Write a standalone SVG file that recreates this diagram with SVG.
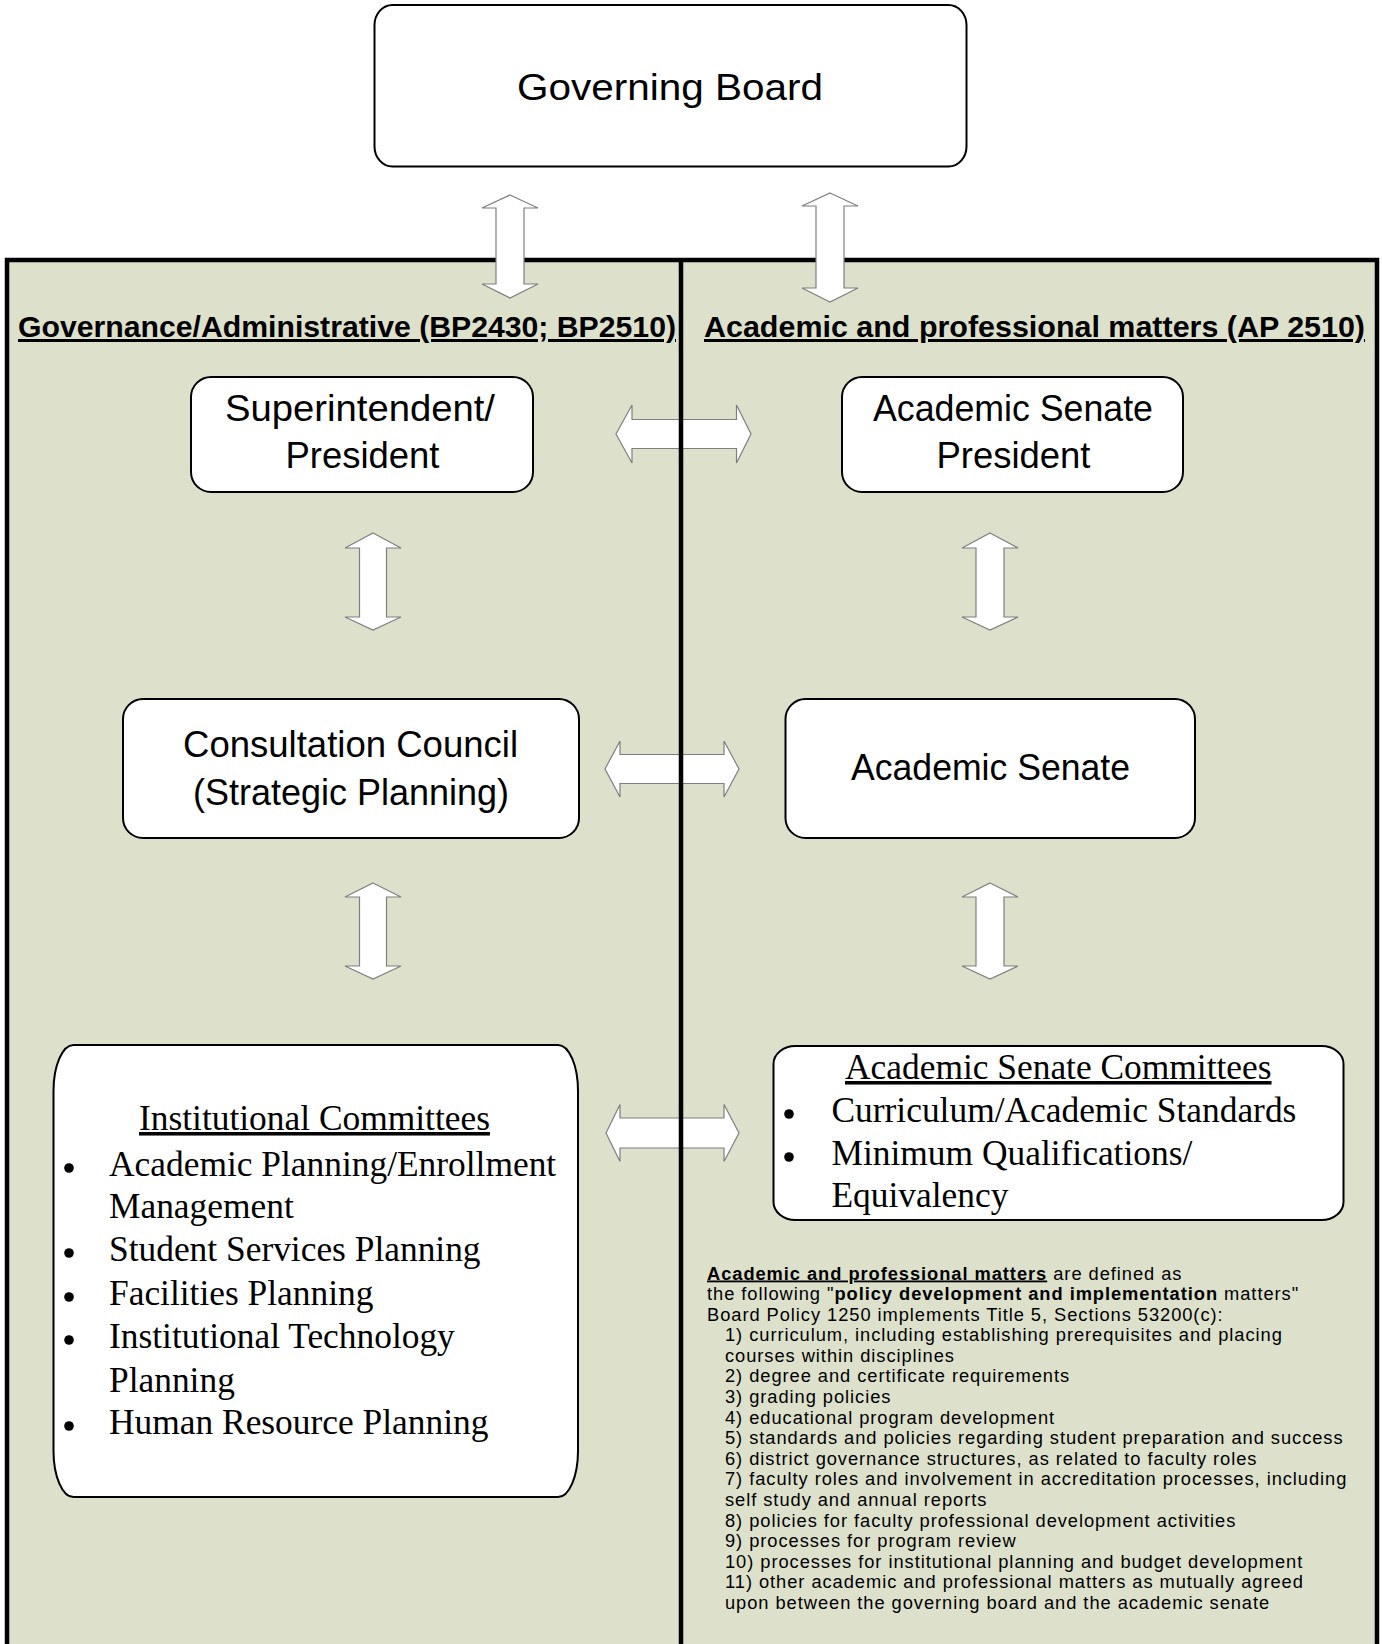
<svg xmlns="http://www.w3.org/2000/svg" width="1382" height="1644" viewBox="0 0 1382 1644">
<style>
  .box { fill: #ffffff; stroke: #000000; stroke-width: 2; }
  .arrow { fill: #ffffff; stroke: #7f7f7f; stroke-width: 1.2; stroke-linejoin: miter; }
  .cal { font-family: "Liberation Sans", Arial, sans-serif; font-size: 37px; fill: #000; text-anchor: middle; }
  .head { font-family: "Liberation Sans", Arial, sans-serif; font-size: 30px; font-weight: bold; fill: #000; text-decoration: underline; }
  .tnr { font-family: "Liberation Serif", "Times New Roman", serif; font-size: 35.4px; fill: #000; }
  .note { font-family: "Liberation Sans", Arial, sans-serif; font-size: 18.3px; letter-spacing: 0.95px; fill: #000; }
  .b { font-weight: bold; }
  .u { text-decoration: underline; }
</style>
<rect width="1382" height="1644" fill="#ffffff"/>
<g id="panel">
  <rect x="7" y="260" width="1370" height="1420" fill="#dde1cc" stroke="#000" stroke-width="4.5"/>
</g>
<g id="connectors">
  <path class="arrow" d="M510,195 L538,208 L524,208 L524,284 L538,284 L510,298 L482,284 L496,284 L496,208 L482,208 Z"/>
  <path class="arrow" d="M830,193 L858,206 L844,206 L844,288 L858,288 L830,302 L802,288 L816,288 L816,206 L802,206 Z"/>
  <path class="arrow" d="M373,533 L401,548 L386.5,548 L386.5,617 L401,617 L373,630 L345,617 L359.5,617 L359.5,548 L345,548 Z"/>
  <path class="arrow" d="M373,883 L401,897 L386.5,897 L386.5,966 L401,966 L373,979 L345,966 L359.5,966 L359.5,897 L345,897 Z"/>
  <path class="arrow" d="M990,533 L1018,548 L1004,548 L1004,617 L1018,617 L990,630 L962,617 L976,617 L976,548 L962,548 Z"/>
  <path class="arrow" d="M990,883 L1018,897 L1004,897 L1004,966 L1018,966 L990,979 L962,966 L976,966 L976,897 L962,897 Z"/>
  <path class="arrow" d="M616,434 L632,405 L632,419.5 L736.5,419.5 L736.5,405 L751,434 L736.5,463 L736.5,448.5 L632,448.5 L632,463 Z"/>
  <path class="arrow" d="M605,769 L620,741 L620,754.5 L724,754.5 L724,741 L739,769 L724,797 L724,783.5 L620,783.5 L620,797 Z"/>
  <path class="arrow" d="M606,1133 L620,1104.5 L620,1118 L724,1118 L724,1104.5 L739,1133 L724,1161.5 L724,1148 L620,1148 L620,1161.5 Z"/>
</g>
<g id="divider">
  <line x1="681" y1="260" x2="681" y2="1644" stroke="#000" stroke-width="4.5"/>
</g>
<g id="headings">
  <text class="head" x="18" y="337" textLength="658" lengthAdjust="spacingAndGlyphs">Governance/Administrative (BP2430; BP2510)</text>
  <text class="head" x="704" y="337" textLength="661" lengthAdjust="spacingAndGlyphs">Academic and professional matters (AP 2510)</text>
</g>
<g id="governing-board">
  <rect class="box" x="374.5" y="5" width="592" height="161.5" rx="18" ry="20"/>
  <text class="cal" x="670" y="100" textLength="306" lengthAdjust="spacingAndGlyphs">Governing Board</text>
</g>
<g id="superintendent">
  <rect class="box" x="191" y="377" width="342" height="115" rx="20" ry="20"/>
  <text class="cal" x="360" y="421" textLength="270" lengthAdjust="spacingAndGlyphs">Superintendent/</text>
  <text class="cal" x="362.5" y="468" textLength="154" lengthAdjust="spacingAndGlyphs">President</text>
</g>
<g id="senate-president">
  <rect class="box" x="842" y="377" width="341" height="115" rx="20" ry="20"/>
  <text class="cal" x="1013" y="421" textLength="280" lengthAdjust="spacingAndGlyphs">Academic Senate</text>
  <text class="cal" x="1013.5" y="468" textLength="154" lengthAdjust="spacingAndGlyphs">President</text>
</g>
<g id="consultation-council">
  <rect class="box" x="123" y="699" width="456" height="139" rx="20" ry="20"/>
  <text class="cal" x="350.5" y="757" textLength="335" lengthAdjust="spacingAndGlyphs">Consultation Council</text>
  <text class="cal" x="351" y="805" textLength="316" lengthAdjust="spacingAndGlyphs">(Strategic Planning)</text>
</g>
<g id="academic-senate">
  <rect class="box" x="785.5" y="699" width="409.5" height="139" rx="20" ry="20"/>
  <text class="cal" x="990.5" y="780" textLength="279" lengthAdjust="spacingAndGlyphs">Academic Senate</text>
</g>
<g id="institutional-committees">
  <rect class="box" x="53.5" y="1045" width="524.5" height="452" rx="20" ry="46"/>
  <text class="tnr u" x="139" y="1130">Institutional Committees</text>
  <circle cx="69" cy="1168" r="4.8"/>
  <text class="tnr" x="109" y="1176">Academic Planning/Enrollment</text>
  <text class="tnr" x="109" y="1218">Management</text>
  <circle cx="69" cy="1253" r="4.8"/>
  <text class="tnr" x="109" y="1261">Student Services Planning</text>
  <circle cx="69" cy="1297" r="4.8"/>
  <text class="tnr" x="109" y="1305">Facilities Planning</text>
  <circle cx="69" cy="1340" r="4.8"/>
  <text class="tnr" x="109" y="1348">Institutional Technology</text>
  <text class="tnr" x="109" y="1392">Planning</text>
  <circle cx="69" cy="1426" r="4.8"/>
  <text class="tnr" x="109" y="1434">Human Resource Planning</text>
</g>
<g id="senate-committees">
  <rect class="box" x="773.5" y="1046" width="570" height="174" rx="22" ry="18"/>
  <text class="tnr u" x="845" y="1079">Academic Senate Committees</text>
  <circle cx="789" cy="1114" r="4.8"/>
  <text class="tnr" x="831.5" y="1122">Curriculum/Academic Standards</text>
  <circle cx="789" cy="1157" r="4.8"/>
  <text class="tnr" x="831.5" y="1165">Minimum Qualifications/</text>
  <text class="tnr" x="831.5" y="1207">Equivalency</text>
</g>
<g id="notes">
  <text class="note" x="707" y="1279.5"><tspan class="b u">Academic and professional matters</tspan> are defined as</text>
  <text class="note" x="707" y="1300">the following "<tspan class="b">policy development and implementation</tspan> matters"</text>
  <text class="note" x="707" y="1320.6">Board Policy 1250 implements Title 5, Sections 53200(c):</text>
  <text class="note" x="725" y="1341.2">1) curriculum, including establishing prerequisites and placing</text>
  <text class="note" x="725" y="1361.8">courses within disciplines</text>
  <text class="note" x="725" y="1382.4">2) degree and certificate requirements</text>
  <text class="note" x="725" y="1403">3) grading policies</text>
  <text class="note" x="725" y="1423.6">4) educational program development</text>
  <text class="note" x="725" y="1444.2">5) standards and policies regarding student preparation and success</text>
  <text class="note" x="725" y="1464.8">6) district governance structures, as related to faculty roles</text>
  <text class="note" x="725" y="1485.4">7) faculty roles and involvement in accreditation processes, including</text>
  <text class="note" x="725" y="1506">self study and annual reports</text>
  <text class="note" x="725" y="1526.6">8) policies for faculty professional development activities</text>
  <text class="note" x="725" y="1547.2">9) processes for program review</text>
  <text class="note" x="725" y="1567.8">10) processes for institutional planning and budget development</text>
  <text class="note" x="725" y="1588.4">11) other academic and professional matters as mutually agreed</text>
  <text class="note" x="725" y="1609">upon between the governing board and the academic senate</text>
</g>
</svg>
